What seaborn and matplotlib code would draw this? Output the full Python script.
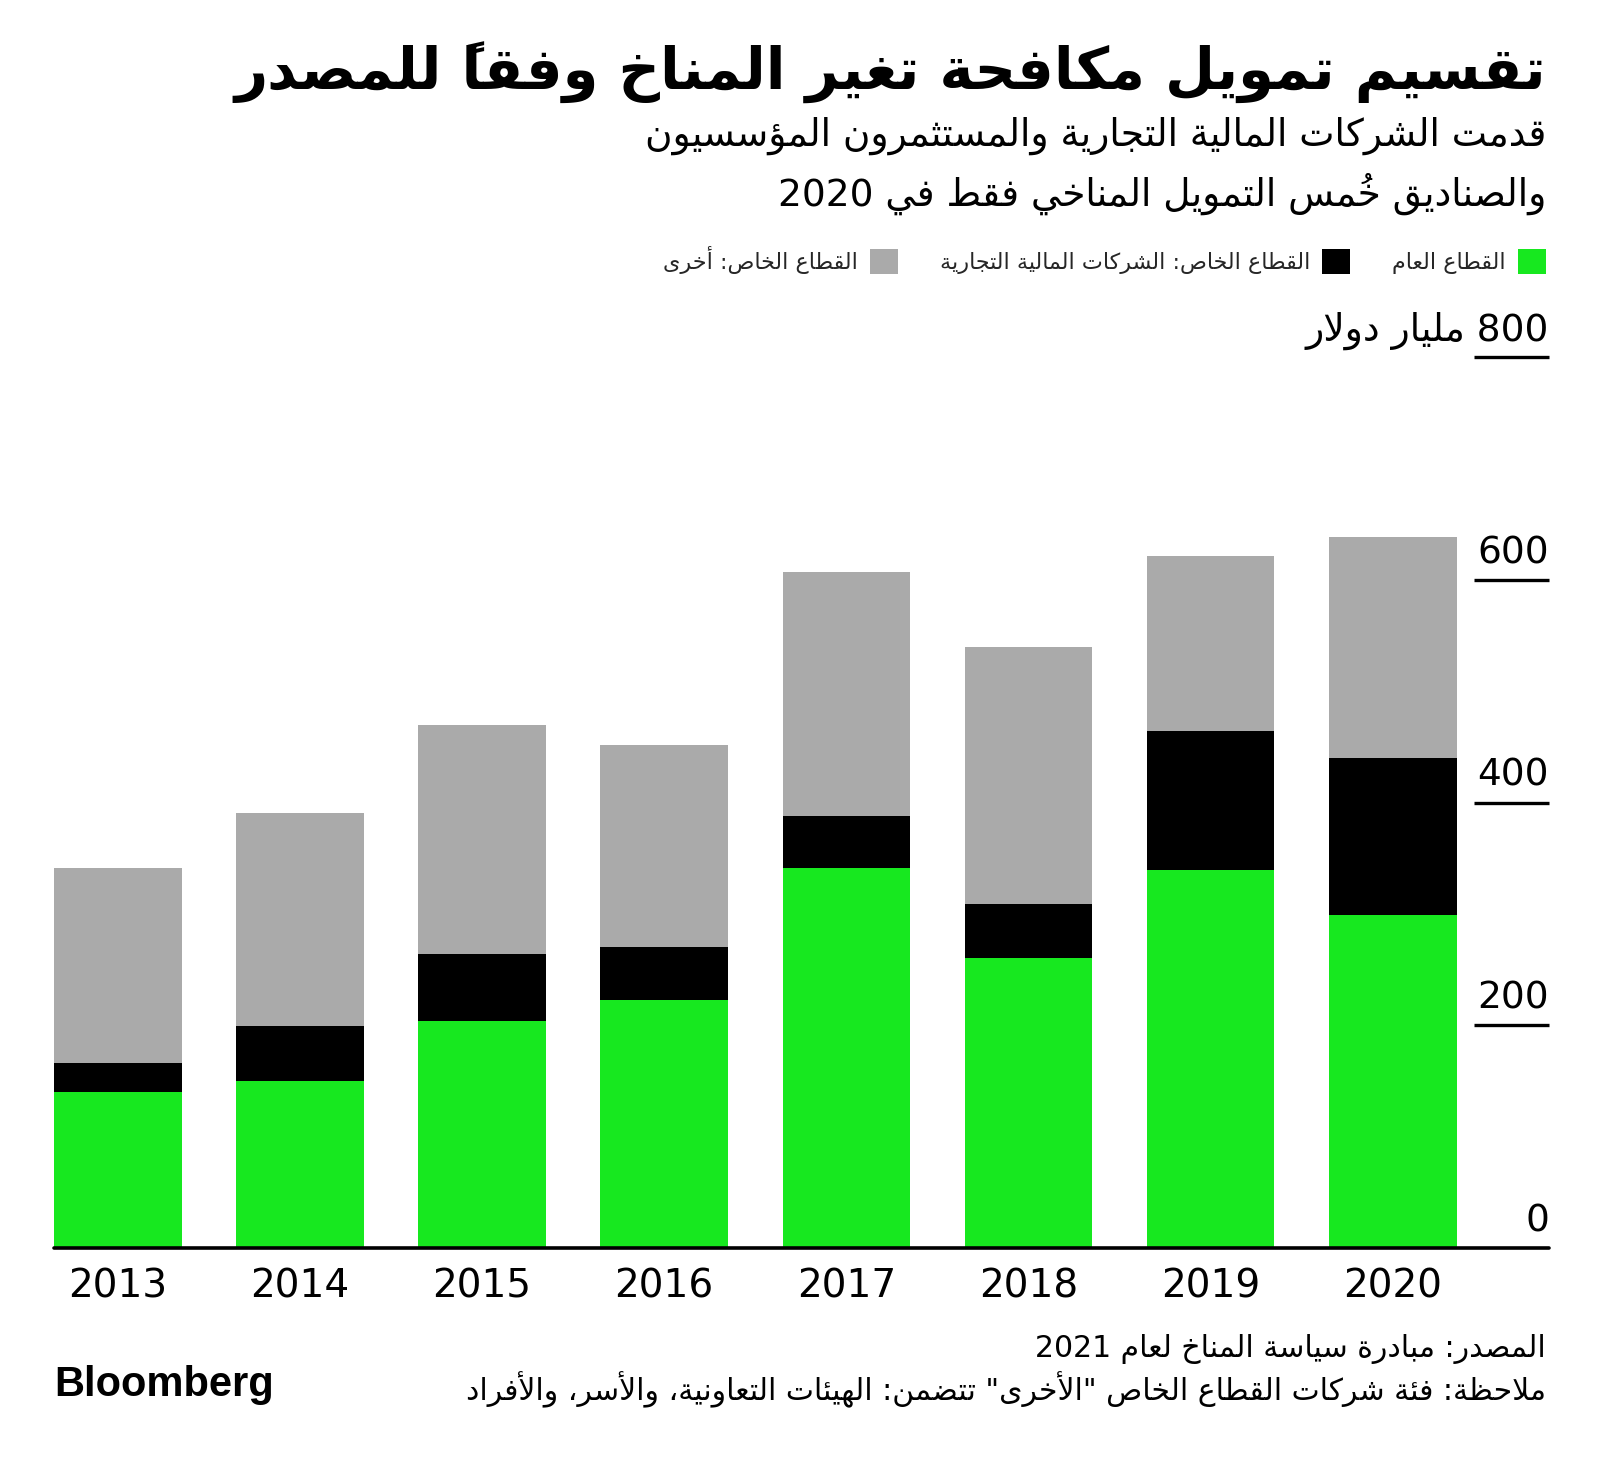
import matplotlib
matplotlib.use("Agg")
import matplotlib.pyplot as plt
from matplotlib.patches import Patch
import pandas as pd
import seaborn as sns

# --- data (billion USD) ---
years = ["2013", "2014", "2015", "2016", "2017", "2018", "2019", "2020"]
public_sector = [140, 150, 204, 223, 341, 260, 339, 299]
private_commercial = [26, 49, 60, 47, 47, 49, 125, 141]
private_other = [175, 192, 206, 182, 219, 231, 157, 198]
y_ticks = [0, 200, 400, 600]
y_top = 800

title = "تقسيم تمويل مكافحة تغير المناخ وفقاً للمصدر"
subtitle_1 = "قدمت الشركات المالية التجارية والمستثمرون المؤسسيون"
subtitle_2 = "والصناديق خُمس التمويل المناخي فقط في 2020"
legend_labels = ["القطاع العام", "القطاع الخاص: الشركات المالية التجارية", "القطاع الخاص: أخرى"]
unit_label = "800 مليار دولار"
source_note = "المصدر: مبادرة سياسة المناخ لعام 2021"
footnote = "ملاحظة: فئة شركات القطاع الخاص \"الأخرى\" تتضمن: الهيئات التعاونية، والأسر، والأفراد"

GREEN = "#17E81F"
BLACK = "#000000"
GRAY = "#AAAAAA"

# --- minimal Arabic shaping + RTL ordering (matplotlib has no text shaping) ---
_spec = [(0x621, 0xFE80, 1), (0x622, 0xFE81, 2), (0x623, 0xFE83, 2), (0x624, 0xFE85, 2),
         (0x625, 0xFE87, 2), (0x626, 0xFE89, 4), (0x627, 0xFE8D, 2), (0x628, 0xFE8F, 4),
         (0x629, 0xFE93, 2), (0x62A, 0xFE95, 4), (0x62B, 0xFE99, 4), (0x62C, 0xFE9D, 4),
         (0x62D, 0xFEA1, 4), (0x62E, 0xFEA5, 4), (0x62F, 0xFEA9, 2), (0x630, 0xFEAB, 2),
         (0x631, 0xFEAD, 2), (0x632, 0xFEAF, 2), (0x633, 0xFEB1, 4), (0x634, 0xFEB5, 4),
         (0x635, 0xFEB9, 4), (0x636, 0xFEBD, 4), (0x637, 0xFEC1, 4), (0x638, 0xFEC5, 4),
         (0x639, 0xFEC9, 4), (0x63A, 0xFECD, 4), (0x641, 0xFED1, 4), (0x642, 0xFED5, 4),
         (0x643, 0xFED9, 4), (0x644, 0xFEDD, 4), (0x645, 0xFEE1, 4), (0x646, 0xFEE5, 4),
         (0x647, 0xFEE9, 4), (0x648, 0xFEED, 2), (0x649, 0xFEEF, 2), (0x64A, 0xFEF1, 4)]
FORMS = {chr(c): (base, n) for c, base, n in _spec}
LAM_ALEF = {"\u0622": 0xFEF5, "\u0623": 0xFEF7, "\u0625": 0xFEF9, "\u0627": 0xFEFB}


def is_mark(ch):
    return 0x64B <= ord(ch) <= 0x652


def shape(text):
    n = len(text)

    def neighbour(i, step):
        j = i + step
        while 0 <= j < n and is_mark(text[j]):
            j += step
        return j if 0 <= j < n else None

    out = []
    i = 0
    while i < n:
        ch = text[i]
        if ch not in FORMS:
            out.append(ch)
            i += 1
            continue
        p = neighbour(i, -1)
        joins_prev = (p is not None and text[p] in FORMS and FORMS[text[p]][1] == 4
                      and ch != "\u0621")
        nx = neighbour(i, 1)
        if ch == "\u0644" and nx is not None and text[nx] in LAM_ALEF:
            out.append(chr(LAM_ALEF[text[nx]] + (1 if joins_prev else 0)))
            i = nx + 1
            continue
        base, count = FORMS[ch]
        joins_next = (count == 4 and nx is not None and text[nx] in FORMS
                      and text[nx] != "\u0621")
        if joins_prev and joins_next:
            form = 3
        elif joins_prev:
            form = 1
        elif joins_next:
            form = 2
        else:
            form = 0
        out.append(chr(base + form))
        i += 1
    return "".join(out)


def rtl(text):
    units = []
    for ch in shape(text):
        if is_mark(ch) and units:
            # zero-advance mark drawn just before its base so it sits on top of it
            units[-1][0] = ch + units[-1][0]
        elif ch.isdigit() and units and units[-1][1]:
            units[-1][0] += ch
        else:
            units.append([ch, ch.isdigit()])
    return "".join(u[0] for u in reversed(units))


df = pd.DataFrame({
    "year": years,
    "public": public_sector,
    "commercial": private_commercial,
    "other": private_other,
})
df["commercial_top"] = df["public"] + df["commercial"]
df["total"] = df["commercial_top"] + df["other"]

sns.set_theme(style="white")
plt.rcParams["font.family"] = ["DejaVu Sans"]

W, H = 1600, 1462
fig = plt.figure(figsize=(W / 100, H / 100), dpi=100)
fig.patch.set_facecolor("white")
ax = fig.add_axes([54 / W, 1 - 1248 / H, (1549 - 54) / W, (1248 - 357) / H])

for col, color in [("total", GRAY), ("commercial_top", BLACK), ("public", GREEN)]:
    sns.barplot(data=df, x="year", y=col, color=color, width=0.7, saturation=1,
                errorbar=None, linewidth=0, ax=ax)

ax.set_xlim(-0.35, 7.857)
ax.set_ylim(0, y_top)
ax.set_xlabel("")
ax.set_ylabel("")
ax.set_yticks([])
sns.despine(ax=ax, left=True, bottom=True)
ax.tick_params(axis="x", length=0, pad=14, labelsize=28, labelcolor="black")

ax.axhline(0, color="black", lw=2.6, clip_on=False, zorder=5)
ax.hlines(y_ticks[1:] + [y_top], 7.448, 7.857, color="black", lw=2.4, clip_on=False)
for v in y_ticks:
    ax.annotate(str(v), xy=(7.857, v), xytext=(0, 12), textcoords="offset points",
                ha="right", va="baseline", fontsize=27, color="black")
ax.annotate(rtl(unit_label), xy=(7.857, y_top), xytext=(0, 12), textcoords="offset points",
            ha="right", va="baseline", fontsize=27, color="black")

# title block
fig.text(1546 / W, 1 - 73 / H, rtl(title), ha="right", va="center",
         fontsize=41.5, fontweight="bold", color="black")
fig.text(1546 / W, 1 - 136 / H, rtl(subtitle_1), ha="right", va="center",
         fontsize=27, color="black")
fig.text(1546 / W, 1 - 194 / H, rtl(subtitle_2), ha="right", va="center",
         fontsize=27, color="black")

# legend, right to left
handles = [Patch(facecolor=c, edgecolor="none") for c in [GRAY, BLACK, GREEN]]
fig.legend(handles, [rtl(t) for t in reversed(legend_labels)], loc="center right",
           bbox_to_anchor=(1546 / W, 1 - 260 / H), ncol=3, frameon=False,
           markerfirst=False, fontsize=16, handlelength=1.25, handleheight=1.4,
           handletextpad=0.55, columnspacing=1.9, borderpad=0, borderaxespad=0)

# footer
fig.text(1546 / W, 1 - 1349 / H, rtl(source_note), ha="right", va="center",
         fontsize=21.5, color="black")
fig.text(1546 / W, 1 - 1390 / H, rtl(footnote), ha="right", va="center",
         fontsize=21.5, color="black")
fig.text(54 / W, 1 - 1385 / H, "Bloomberg", ha="left", va="center",
         fontsize=30, fontweight="bold", family=["Liberation Sans", "DejaVu Sans"],
         color="black")

fig.savefig("out.png", dpi=100, facecolor="white")
